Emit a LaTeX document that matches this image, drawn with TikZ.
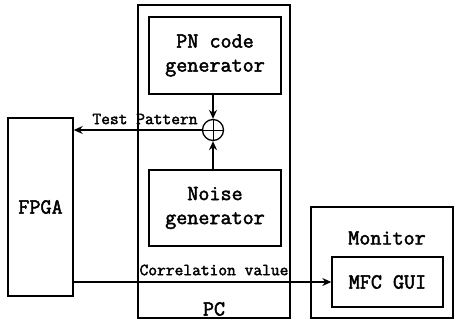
\documentclass[tikz,border=0pt]{standalone}
\usepackage{fontspec}
\newfontfamily\courbold[FakeBold=2.2]{Latin Modern Mono}
\usetikzlibrary{arrows.meta}
\begin{document}
\begin{tikzpicture}[x=1pt,y=-1pt,
  box/.style={draw,line width=1.4pt,inner sep=0pt},
  big/.style={font=\fontsize{21.5}{24}\courbold,align=center},
  small/.style={font=\fontsize{17}{19}\courbold},
  arr/.style={line width=1.3pt,-{Stealth[length=9pt,width=8pt]}}]
\useasboundingbox (0,0) rectangle (460,321);
% boxes
\node[box,minimum width=152pt,minimum height=313pt] (pc) at (214,161.5) {};
\node[big] (pclbl) at (214,309) {PC};
\node[box,big,minimum width=132pt,minimum height=77pt] (pn) at (215,55.5) {PN code\\generator};
\node[box,big,minimum width=132pt,minimum height=76pt] (noise) at (215,208) {Noise\\generator};
\node[draw,circle,line width=1.3pt,minimum size=21pt,inner sep=0pt] (xor) at (213,130) {};
\draw[line width=1pt] (xor.north) -- (xor.south) (xor.west) -- (xor.east);
\node[box,big,minimum width=65pt,minimum height=178pt] (fpga) at (40.5,207) {FPGA};
\node[box,minimum width=142pt,minimum height=111pt] (mon) at (382,262.5) {};
\node[big] (monlbl) at (387,238) {Monitor};
\node[box,big,minimum width=111pt,minimum height=50pt] (mfc) at (387.5,282) {MFC GUI};
% connectors
\draw[arr] (pn.south -| xor.north) -- (xor.north);
\draw[arr] (noise.north -| xor.south) -- (xor.south);
\draw[arr] (xor.west) -- (xor.west -| fpga.east);
\node[small] (tp) at (145,119) {Test Pattern};
\draw[arr] (fpga.east |- mfc.west) -- (mfc.west);
\node[small] (cv) at (214,270) {Correlation value};
\end{tikzpicture}
\end{document}
